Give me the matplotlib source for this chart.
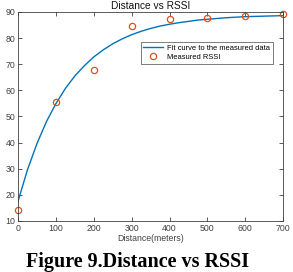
import numpy as np
import matplotlib
matplotlib.use('Agg')
import matplotlib.pyplot as plt

plt.rcParams['font.family'] = ['Liberation Sans', 'DejaVu Sans']

# measured points
distance = [0, 100, 200, 300, 400, 500, 600, 700]
rssi = [14.1, 55.5, 67.7, 84.5, 87.5, 87.8, 88.5, 89.4]

# fitted curve
fit_x = [0, 25, 50, 75, 100, 125, 150, 175, 200, 225, 250, 275, 300, 325, 350,
         375, 400, 425, 450, 475, 500, 525, 550, 575, 600, 625, 650, 675, 700]
fit_y = [17.5, 29.6, 39.6, 48.0, 54.9, 60.7, 65.5, 69.4, 72.8, 75.5, 77.8, 79.7,
         81.3, 82.6, 83.7, 84.6, 85.3, 85.9, 86.4, 86.9, 87.2, 87.5, 87.8, 88.0,
         88.2, 88.3, 88.4, 88.5, 88.6]

fig = plt.figure(figsize=(2.93, 2.72), dpi=100)
ax = fig.add_axes([0.0614, 0.1875, 0.905, 0.7685])

ax.plot(fit_x, fit_y, color='#0072BD', lw=1.0, label='Fit curve to the measured data')
ax.plot(distance, rssi, 'o', mfc='none', mec='#D95319', ms=4.5, mew=0.9,
        label='Measured RSSI', clip_on=False)

ax.set_xlim(0, 700)
ax.set_ylim(10, 90)
ax.set_xticks(np.arange(0, 701, 100))
ax.set_yticks(np.arange(10, 91, 10))
ax.tick_params(direction='in', top=True, right=True, length=3, width=0.6,
               labelsize=6.3, colors='#404040', pad=2)
for s in ax.spines.values():
    s.set_color('#404040')
    s.set_linewidth(0.6)

ax.set_title('Distance vs RSSI', fontsize=7.3, pad=2, color='#111111')
ax.set_xlabel('Distance(meters)', fontsize=6.3, labelpad=1, color='#404040')
ax.set_ylabel('RSSI(-dBm)', fontsize=6.3, color='#404040')
ax.yaxis.set_label_coords(-0.088, 0.5)

leg = ax.legend(loc='upper right', bbox_to_anchor=(0.962, 0.856), fontsize=5.4,
                frameon=True, fancybox=False, edgecolor='#404040',
                borderpad=0.35, handlelength=2.6, handletextpad=0.6,
                labelspacing=0.25, borderaxespad=0)
leg.get_frame().set_linewidth(0.6)

fig.text(0.47, 0.0, 'Figure 9.Distance vs RSSI', ha='center', va='bottom',
         fontsize=14.5, fontweight='bold', family='Liberation Serif')

fig.savefig('out.png', dpi=100)
